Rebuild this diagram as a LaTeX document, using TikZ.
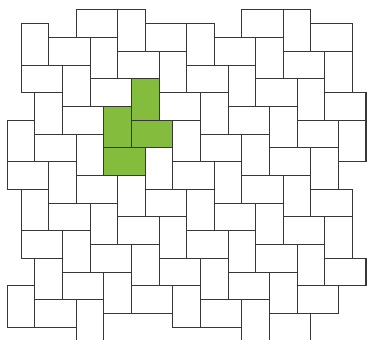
\documentclass[tikz,border=0pt]{standalone}
\usepackage{xcolor}
\usepackage{tikz}
\definecolor{leafgreen}{RGB}{132,189,62}
\definecolor{groutgray}{RGB}{55,55,55}

\begin{document}
\begin{tikzpicture}[x=0.4cm, y=-0.4cm,
  brick/.style={draw=groutgray, line width=0.9pt, fill=white},
  greenbrick/.style={brick, fill=leafgreen}]
\useasboundingbox (-0.53,-0.72) rectangle (26.07,23.91);
\clip (-0.53,-0.72) rectangle (26.07,23.91);
% lying bricks, 3 wide and 2 high
\foreach \x/\y in {5/0,3/2,1/4,8/3,10/1,6/5,4/7,2/9,0/11,11/6,13/4,15/2,17/0,
  5/12,3/14,1/16,14/9,16/7,18/5,20/3,22/1,12/11,10/13,8/15,6/17,4/19,2/21,
  17/12,19/10,21/8,23/6,15/14,13/16,11/18,9/20,20/15,22/13,18/17,16/19,14/21,
  23/18,21/20,19/22}{
  \draw[brick] (\x,\y) rectangle ++(3,2);
}
% standing bricks, 2 wide and 3 high
\foreach \x/\y in {1/1,8/0,6/2,4/4,2/6,0/8,11/3,13/1,5/9,3/11,1/13,
  14/6,16/4,18/2,20/0,12/8,10/10,8/12,6/14,4/16,2/18,0/20,
  17/9,19/7,21/5,23/3,15/11,13/13,11/15,9/17,7/19,5/21,
  20/12,22/10,24/8,18/14,16/16,14/18,12/20,23/15,21/17,19/19,17/21}{
  \draw[brick] (\x,\y) rectangle ++(2,3);
}
% highlighted step of four bricks
\foreach \x/\y in {9/8,7/10}{
  \draw[greenbrick] (\x,\y) rectangle ++(3,2);
}
\foreach \x/\y in {9/5,7/7}{
  \draw[greenbrick] (\x,\y) rectangle ++(2,3);
}
\end{tikzpicture}
\end{document}
